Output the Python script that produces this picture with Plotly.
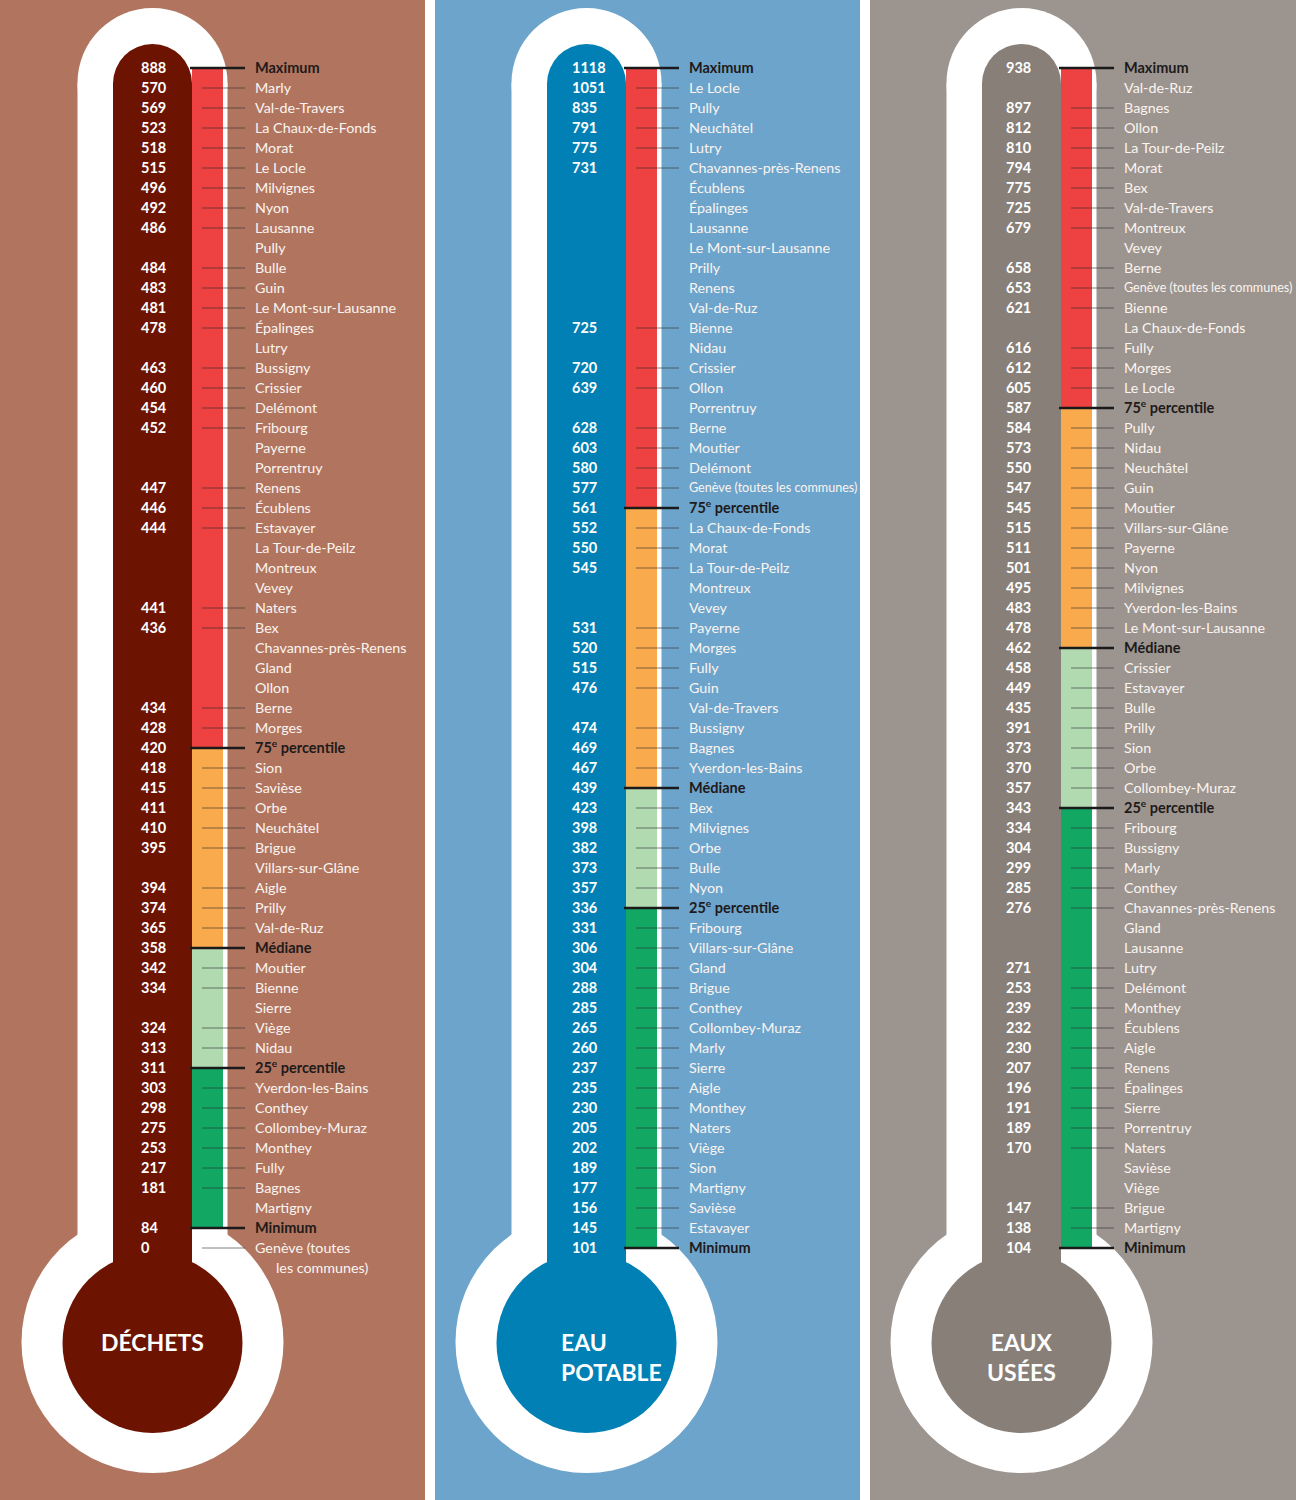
"""
Thermomètres des taxes communales : déchets, eau potable, eaux usées.
Trois panneaux côte à côte, une ligne par commune.
"""

import plotly.graph_objects as go

# ---------------------------------------------------------------------------
# Data
# ---------------------------------------------------------------------------
DECHETS_LABELS = [
    "Maximum", "Marly", "Val-de-Travers", "La Chaux-de-Fonds", "Morat",
    "Le Locle", "Milvignes", "Nyon", "Lausanne", "Pully", "Bulle", "Guin",
    "Le Mont-sur-Lausanne", "Épalinges", "Lutry", "Bussigny", "Crissier",
    "Delémont", "Fribourg", "Payerne", "Porrentruy", "Renens", "Écublens",
    "Estavayer", "La Tour-de-Peilz", "Montreux", "Vevey", "Naters", "Bex",
    "Chavannes-près-Renens", "Gland", "Ollon", "Berne", "Morges",
    "75<sup>e</sup> percentile", "Sion", "Savièse", "Orbe", "Neuchâtel",
    "Brigue", "Villars-sur-Glâne", "Aigle", "Prilly", "Val-de-Ruz", "Médiane",
    "Moutier", "Bienne", "Sierre", "Viège", "Nidau",
    "25<sup>e</sup> percentile", "Yverdon-les-Bains", "Conthey",
    "Collombey-Muraz", "Monthey", "Fully", "Bagnes", "Martigny", "Minimum",
    "Genève (toutes<br>les communes)",
]
DECHETS_VALUES = [
    888, 570, 569, 523, 518, 515, 496, 492, 486, None, 484, 483, 481, 478,
    None, 463, 460, 454, 452, None, None, 447, 446, 444, None, None, None,
    441, 436, None, None, None, 434, 428, 420, 418, 415, 411, 410, 395, None,
    394, 374, 365, 358, 342, 334, None, 324, 313, 311, 303, 298, 275, 253,
    217, 181, None, 84, 0,
]

EAU_LABELS = [
    "Maximum", "Le Locle", "Pully", "Neuchâtel", "Lutry",
    "Chavannes-près-Renens", "Écublens", "Épalinges", "Lausanne",
    "Le Mont-sur-Lausanne", "Prilly", "Renens", "Val-de-Ruz", "Bienne",
    "Nidau", "Crissier", "Ollon", "Porrentruy", "Berne", "Moutier",
    "Delémont", "Genève (toutes les communes)", "75<sup>e</sup> percentile",
    "La Chaux-de-Fonds", "Morat", "La Tour-de-Peilz", "Montreux", "Vevey",
    "Payerne", "Morges", "Fully", "Guin", "Val-de-Travers", "Bussigny",
    "Bagnes", "Yverdon-les-Bains", "Médiane", "Bex", "Milvignes", "Orbe",
    "Bulle", "Nyon", "25<sup>e</sup> percentile", "Fribourg",
    "Villars-sur-Glâne", "Gland", "Brigue", "Conthey", "Collombey-Muraz",
    "Marly", "Sierre", "Aigle", "Monthey", "Naters", "Viège", "Sion",
    "Martigny", "Savièse", "Estavayer", "Minimum",
]
EAU_VALUES = [
    1118, 1051, 835, 791, 775, 731, None, None, None, None, None, None, None,
    725, None, 720, 639, None, 628, 603, 580, 577, 561, 552, 550, 545, None,
    None, 531, 520, 515, 476, None, 474, 469, 467, 439, 423, 398, 382, 373,
    357, 336, 331, 306, 304, 288, 285, 265, 260, 237, 235, 230, 205, 202,
    189, 177, 156, 145, 101,
]

USEES_LABELS = [
    "Maximum", "Val-de-Ruz", "Bagnes", "Ollon", "La Tour-de-Peilz", "Morat",
    "Bex", "Val-de-Travers", "Montreux", "Vevey", "Berne",
    "Genève (toutes les communes)", "Bienne", "La Chaux-de-Fonds", "Fully",
    "Morges", "Le Locle", "75<sup>e</sup> percentile", "Pully", "Nidau",
    "Neuchâtel", "Guin", "Moutier", "Villars-sur-Glâne", "Payerne", "Nyon",
    "Milvignes", "Yverdon-les-Bains", "Le Mont-sur-Lausanne", "Médiane",
    "Crissier", "Estavayer", "Bulle", "Prilly", "Sion", "Orbe",
    "Collombey-Muraz", "25<sup>e</sup> percentile", "Fribourg", "Bussigny",
    "Marly", "Conthey", "Chavannes-près-Renens", "Gland", "Lausanne",
    "Lutry", "Delémont", "Monthey", "Écublens", "Aigle", "Renens",
    "Épalinges", "Sierre", "Porrentruy", "Naters", "Savièse", "Viège",
    "Brigue", "Martigny", "Minimum",
]
USEES_VALUES = [
    938, None, 897, 812, 810, 794, 775, 725, 679, None, 658, 653, 621, None,
    616, 612, 605, 587, 584, 573, 550, 547, 545, 515, 511, 501, 495, 483,
    478, 462, 458, 449, 435, 391, 373, 370, 357, 343, 334, 304, 299, 285,
    276, None, None, 271, 253, 239, 232, 230, 207, 196, 191, 189, 170, None,
    None, 147, 138, 104,
]

TITLES = ["DÉCHETS", "EAU<br>POTABLE", "EAUX<br>USÉES"]
MARKERS = ["Maximum", "75<sup>e</sup> percentile", "Médiane",
           "25<sup>e</sup> percentile", "Minimum"]

# ---------------------------------------------------------------------------
# Style
# ---------------------------------------------------------------------------
FONT = "Lato, 'Open Sans', sans-serif"
ZONE_COLORS = ["#EE4141", "#F9AA4C", "#B2DAB0", "#12A864"]
LABEL_WHITE = "#FBF4F0"
LABEL_DARK = "#1E1A1A"
LABEL_SIZE = 14.3

PANELS = [
    dict(labels=DECHETS_LABELS, values=DECHETS_VALUES, title=TITLES[0],
         bg="#B1755F", tube="#6C1401", x0=0, x1=425, dx=0, num_x=141,
         align="center"),
    dict(labels=EAU_LABELS, values=EAU_VALUES, title=TITLES[1],
         bg="#6DA4CC", tube="#0080B4", x0=435, x1=860, dx=434, num_x=572,
         align="left"),
    dict(labels=USEES_LABELS, values=USEES_VALUES, title=TITLES[2],
         bg="#9C958F", tube="#877F78", x0=870, x1=1296, dx=869, num_x=1006,
         align="center"),
]

W, H = 1296, 1500
ROW0, ROW_H = 68, 20
TXT_DY = 1.2   # text sits a touch high in the browser, nudge it down


def row_y(i):
    return ROW0 + ROW_H * i


fig = go.Figure()
shapes = []
annotations = []

for p in PANELS:
    dx = p["dx"]
    cx = 152.5 + dx
    labels, values = p["labels"], p["values"]

    # panel background + thermometer body
    shapes.append(dict(type="rect", x0=p["x0"], x1=p["x1"], y0=0, y1=H,
                       fillcolor=p["bg"], line_width=0, layer="below"))
    for kind, x0, x1, y0, y1, col in [
        ("circle", cx - 75, cx + 75, 8, 158, "white"),
        ("rect", cx - 75, cx + 75, 83, 1250, "white"),
        ("circle", cx - 131, cx + 131, 1211, 1473, "white"),
        ("circle", cx - 39.5, cx + 39.5, 44, 123, p["tube"]),
        ("rect", cx - 39.5, cx + 39.5, 83.5, 1280, p["tube"]),
        ("circle", cx - 90, cx + 90, 1253, 1433, p["tube"]),
    ]:
        shapes.append(dict(type=kind, x0=x0, x1=x1, y0=y0, y1=y1,
                           fillcolor=col, line_width=0, layer="below"))

    # percentile zones
    idx = [labels.index(m) for m in MARKERS]
    for k in range(4):
        fig.add_trace(go.Bar(
            x=[207.5 + dx], y=[row_y(idx[k + 1]) - row_y(idx[k])],
            base=[row_y(idx[k])], width=31,
            marker=dict(color=ZONE_COLORS[k], line_width=0),
            showlegend=False, hoverinfo="skip",
        ))

    # tick lines
    thin_x, thin_y, bold_x, bold_y = [], [], [], []
    for i, (lab, val) in enumerate(zip(labels, values)):
        if val is None:
            continue
        y = row_y(i)
        if lab in MARKERS:
            bold_x += [190 + dx, 245 + dx, None]
            bold_y += [y, y, None]
        else:
            thin_x += [202 + dx, 245 + dx, None]
            thin_y += [y, y, None]
    fig.add_trace(go.Scatter(x=thin_x, y=thin_y, mode="lines",
                             line=dict(color="rgba(45,45,45,0.6)", width=1),
                             showlegend=False, hoverinfo="skip"))
    fig.add_trace(go.Scatter(x=bold_x, y=bold_y, mode="lines",
                             line=dict(color="#1A1A1A", width=2.5),
                             showlegend=False, hoverinfo="skip"))

    # numbers in the tube
    num_y = [row_y(i) + TXT_DY for i, v in enumerate(values) if v is not None]
    num_t = [f"<b>{v}</b>" for v in values if v is not None]
    fig.add_trace(go.Scatter(
        x=[p["num_x"]] * len(num_y), y=num_y, text=num_t, mode="text",
        textposition="middle right",
        textfont=dict(family=FONT, size=14.5, color="white"),
        showlegend=False, hoverinfo="skip",
    ))

    # commune labels (long names get squeezed like in the original)
    lx, ly, lt, ls, bx, by, bt = [], [], [], [], [], [], []
    for i, lab in enumerate(labels):
        if lab in MARKERS:
            bx.append(255 + dx); by.append(row_y(i) + TXT_DY)
            bt.append(f"<b>{lab}</b>")
            continue
        parts = lab.split("<br>")
        size = 12.6 if len(parts[0]) > 24 else LABEL_SIZE
        lx.append(255 + dx); ly.append(row_y(i) + TXT_DY)
        lt.append(parts[0]); ls.append(size)
        if len(parts) > 1:
            lx.append(276 + dx); ly.append(row_y(i + 1) + TXT_DY)
            lt.append(parts[1]); ls.append(LABEL_SIZE)
    fig.add_trace(go.Scatter(
        x=lx, y=ly, text=lt, mode="text", textposition="middle right",
        textfont=dict(family=FONT, size=ls, color=LABEL_WHITE),
        showlegend=False, hoverinfo="skip",
    ))
    fig.add_trace(go.Scatter(
        x=bx, y=by, text=bt, mode="text", textposition="middle right",
        textfont=dict(family=FONT, size=LABEL_SIZE + 0.2, color=LABEL_DARK),
        showlegend=False, hoverinfo="skip",
    ))

    # bulb title
    if p["align"] == "left":
        annotations.append(dict(x=559, y=1357, xref="x", yref="y",
                                text=f"<b>{p['title']}</b>", showarrow=False,
                                xanchor="left", yanchor="middle", align="left",
                                font=dict(family=FONT, size=23, color="white")))
    else:
        annotations.append(dict(x=cx, y=1342 if "<br>" not in p["title"] else 1357,
                                xref="x", yref="y",
                                text=f"<b>{p['title']}</b>", showarrow=False,
                                xanchor="center", yanchor="middle", align="center",
                                font=dict(family=FONT, size=23, color="white")))

fig.update_layout(
    width=W, height=H,
    margin=dict(l=0, r=0, t=0, b=0),
    paper_bgcolor="white", plot_bgcolor="white",
    barmode="overlay",
    xaxis=dict(visible=False, range=[0, W], fixedrange=True),
    yaxis=dict(visible=False, range=[H, 0], fixedrange=True),
    shapes=shapes,
    annotations=annotations,
)

fig.write_html("out.html", config={"displayModeBar": False},
               post_script="document.body.style.margin='0';")
